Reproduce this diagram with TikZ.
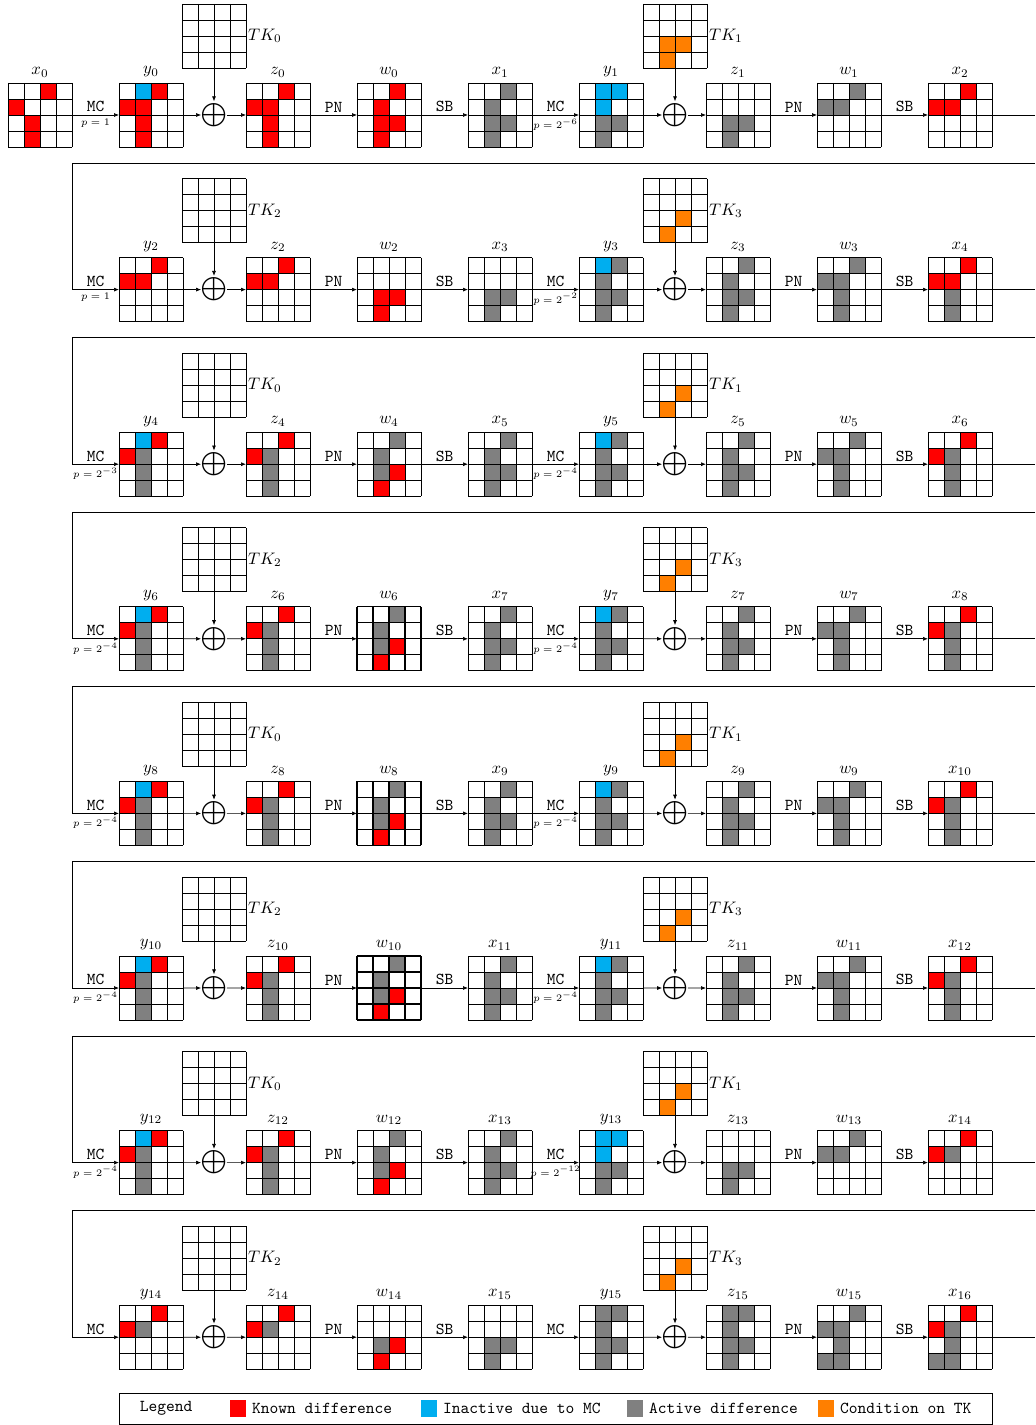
\documentclass[tikz,border=0pt]{standalone}
\usetikzlibrary{calc,positioning,arrows.meta}

\definecolor{kn}{RGB}{255,0,0}
\definecolor{ia}{RGB}{0,174,239}
\definecolor{ac}{RGB}{128,128,128}
\definecolor{cd}{RGB}{255,127,0}

\tikzset{
	gbox/.style={minimum size=38.4pt, inner sep=0pt, outer sep=0pt, label distance=0pt, every label/.style={inner sep=1.8pt}},
	tkl/.style={inner sep=1pt},
	thickgrid/.style={line width=0.75pt},
	xorop/.style={inner sep=0pt, font=\large},
	op/.style={above, inner sep=1.5pt, font=\ttfamily},
	prob/.style={below, inner sep=2pt, font=\fontsize{6}{7}\selectfont},
	swatch/.style={minimum width=9.6pt, minimum height=10pt, inner sep=0pt},
}

% #2 name, #3 centre, #4 label, #5 cells row/col/colour
\newcommand{\stategrid}[5][]{%
	\node[gbox, label={#4}] (#2) at (#3) {};
	\foreach \rw/\cl/\col in {#5}
		\fill[fill=\col] ($(#2.north west)+(\cl*16,\rw*16)$) rectangle +(16,16);
	\foreach \i in {0,...,4} {
		\draw[line width=0.5pt, #1] ($(#2.north west)+(\i*16,0)$) -- +(0,64);
		\draw[line width=0.5pt, #1] ($(#2.north west)+(0,\i*16)$) -- +(64,0);
	}
}

\begin{document}
\begin{tikzpicture}[x=0.6pt, y=-0.6pt, line width=0.4pt, >={Latex[length=3pt,width=2.4pt]}]
	\useasboundingbox (0,0) rectangle (1035,1425);
	\coordinate (edge) at (1035,0);

	\stategrid{x0}{40,115}{above:$x_0$}{0/2/kn,1/0/kn,2/1/kn,3/1/kn}
	\stategrid{y0}{151,115}{above:$y_0$}{0/1/ia,0/2/kn,1/0/kn,1/1/kn,2/1/kn,3/1/kn}
	\stategrid{key0}{214,36}{[tkl]right:$TK_0$}{0/0/white}
	\stategrid{z0}{278,115}{above:$z_0$}{0/2/kn,1/0/kn,1/1/kn,2/1/kn,3/1/kn}
	\stategrid{w0}{389,115}{above:$w_0$}{0/2/kn,1/1/kn,2/1/kn,2/2/kn,3/1/kn}
	\stategrid{x1}{500,115}{above:$x_1$}{0/2/ac,1/1/ac,2/1/ac,2/2/ac,3/1/ac}
	\stategrid{y1}{611,115}{above:$y_1$}{0/1/ia,0/2/ia,1/1/ia,2/1/ac,2/2/ac,3/1/ac}
	\stategrid{key1}{675,36}{[tkl]right:$TK_1$}{2/1/cd,2/2/cd,3/1/cd}
	\stategrid{z1}{738,115}{above:$z_1$}{2/1/ac,2/2/ac,3/1/ac}
	\stategrid{w1}{849,115}{above:$w_1$}{0/2/ac,1/0/ac,1/1/ac}
	\stategrid{x2}{960,115}{above:$x_2$}{0/2/kn,1/0/kn,1/1/kn}

	\stategrid{y2}{151,289.6}{above:$y_2$}{0/2/kn,1/0/kn,1/1/kn}
	\stategrid{key2}{214,210.6}{[tkl]right:$TK_2$}{0/0/white}
	\stategrid{z2}{278,289.6}{above:$z_2$}{0/2/kn,1/0/kn,1/1/kn}
	\stategrid{w2}{389,289.6}{above:$w_2$}{2/1/kn,2/2/kn,3/1/kn}
	\stategrid{x3}{500,289.6}{above:$x_3$}{2/1/ac,2/2/ac,3/1/ac}
	\stategrid{y3}{611,289.6}{above:$y_3$}{0/1/ia,0/2/ac,1/1/ac,2/1/ac,2/2/ac,3/1/ac}
	\stategrid{key3}{675,210.6}{[tkl]right:$TK_3$}{2/2/cd,3/1/cd}
	\stategrid{z3}{738,289.6}{above:$z_3$}{0/2/ac,1/1/ac,2/1/ac,2/2/ac,3/1/ac}
	\stategrid{w3}{849,289.6}{above:$w_3$}{0/2/ac,1/0/ac,1/1/ac,2/1/ac,3/1/ac}
	\stategrid{x4}{960,289.6}{above:$x_4$}{0/2/kn,1/0/kn,1/1/kn,2/1/ac,3/1/ac}

	\stategrid{y4}{151,464.2}{above:$y_4$}{0/1/ia,0/2/kn,1/0/kn,1/1/ac,2/1/ac,3/1/ac}
	\stategrid{key4}{214,385.2}{[tkl]right:$TK_0$}{0/0/white}
	\stategrid{z4}{278,464.2}{above:$z_4$}{0/2/kn,1/0/kn,1/1/ac,2/1/ac,3/1/ac}
	\stategrid{w4}{389,464.2}{above:$w_4$}{0/2/ac,1/1/ac,2/1/ac,2/2/kn,3/1/kn}
	\stategrid{x5}{500,464.2}{above:$x_5$}{0/2/ac,1/1/ac,2/1/ac,2/2/ac,3/1/ac}
	\stategrid{y5}{611,464.2}{above:$y_5$}{0/1/ia,0/2/ac,1/1/ac,2/1/ac,2/2/ac,3/1/ac}
	\stategrid{key5}{675,385.2}{[tkl]right:$TK_1$}{2/2/cd,3/1/cd}
	\stategrid{z5}{738,464.2}{above:$z_5$}{0/2/ac,1/1/ac,2/1/ac,2/2/ac,3/1/ac}
	\stategrid{w5}{849,464.2}{above:$w_5$}{0/2/ac,1/0/ac,1/1/ac,2/1/ac,3/1/ac}
	\stategrid{x6}{960,464.2}{above:$x_6$}{0/2/kn,1/0/kn,1/1/ac,2/1/ac,3/1/ac}

	\stategrid{y6}{151,638.8}{above:$y_6$}{0/1/ia,0/2/kn,1/0/kn,1/1/ac,2/1/ac,3/1/ac}
	\stategrid{key6}{214,559.8}{[tkl]right:$TK_2$}{0/0/white}
	\stategrid{z6}{278,638.8}{above:$z_6$}{0/2/kn,1/0/kn,1/1/ac,2/1/ac,3/1/ac}
	\stategrid[thickgrid]{w6}{389,638.8}{above:$w_6$}{0/2/ac,1/1/ac,2/1/ac,2/2/kn,3/1/kn}
	\stategrid{x7}{500,638.8}{above:$x_7$}{0/2/ac,1/1/ac,2/1/ac,2/2/ac,3/1/ac}
	\stategrid{y7}{611,638.8}{above:$y_7$}{0/1/ia,0/2/ac,1/1/ac,2/1/ac,2/2/ac,3/1/ac}
	\stategrid{key7}{675,559.8}{[tkl]right:$TK_3$}{2/2/cd,3/1/cd}
	\stategrid{z7}{738,638.8}{above:$z_7$}{0/2/ac,1/1/ac,2/1/ac,2/2/ac,3/1/ac}
	\stategrid{w7}{849,638.8}{above:$w_7$}{0/2/ac,1/0/ac,1/1/ac,2/1/ac,3/1/ac}
	\stategrid{x8}{960,638.8}{above:$x_8$}{0/2/kn,1/0/kn,1/1/ac,2/1/ac,3/1/ac}

	\stategrid{y8}{151,813.4}{above:$y_8$}{0/1/ia,0/2/kn,1/0/kn,1/1/ac,2/1/ac,3/1/ac}
	\stategrid{key8}{214,734.4}{[tkl]right:$TK_0$}{0/0/white}
	\stategrid{z8}{278,813.4}{above:$z_8$}{0/2/kn,1/0/kn,1/1/ac,2/1/ac,3/1/ac}
	\stategrid[thickgrid]{w8}{389,813.4}{above:$w_8$}{0/2/ac,1/1/ac,2/1/ac,2/2/kn,3/1/kn}
	\stategrid{x9}{500,813.4}{above:$x_9$}{0/2/ac,1/1/ac,2/1/ac,2/2/ac,3/1/ac}
	\stategrid{y9}{611,813.4}{above:$y_9$}{0/1/ia,0/2/ac,1/1/ac,2/1/ac,2/2/ac,3/1/ac}
	\stategrid{key9}{675,734.4}{[tkl]right:$TK_1$}{2/2/cd,3/1/cd}
	\stategrid{z9}{738,813.4}{above:$z_9$}{0/2/ac,1/1/ac,2/1/ac,2/2/ac,3/1/ac}
	\stategrid{w9}{849,813.4}{above:$w_9$}{0/2/ac,1/0/ac,1/1/ac,2/1/ac,3/1/ac}
	\stategrid{x10}{960,813.4}{above:$x_{10}$}{0/2/kn,1/0/kn,1/1/ac,2/1/ac,3/1/ac}

	\stategrid{y10}{151,988}{above:$y_{10}$}{0/1/ia,0/2/kn,1/0/kn,1/1/ac,2/1/ac,3/1/ac}
	\stategrid{key10}{214,909}{[tkl]right:$TK_2$}{0/0/white}
	\stategrid{z10}{278,988}{above:$z_{10}$}{0/2/kn,1/0/kn,1/1/ac,2/1/ac,3/1/ac}
	\stategrid[thickgrid]{w10}{389,988}{above:$w_{10}$}{0/2/ac,1/1/ac,2/1/ac,2/2/kn,3/1/kn}
	\stategrid{x11}{500,988}{above:$x_{11}$}{0/2/ac,1/1/ac,2/1/ac,2/2/ac,3/1/ac}
	\stategrid{y11}{611,988}{above:$y_{11}$}{0/1/ia,0/2/ac,1/1/ac,2/1/ac,2/2/ac,3/1/ac}
	\stategrid{key11}{675,909}{[tkl]right:$TK_3$}{2/2/cd,3/1/cd}
	\stategrid{z11}{738,988}{above:$z_{11}$}{0/2/ac,1/1/ac,2/1/ac,2/2/ac,3/1/ac}
	\stategrid{w11}{849,988}{above:$w_{11}$}{0/2/ac,1/0/ac,1/1/ac,2/1/ac,3/1/ac}
	\stategrid{x12}{960,988}{above:$x_{12}$}{0/2/kn,1/0/kn,1/1/ac,2/1/ac,3/1/ac}

	\stategrid{y12}{151,1162.6}{above:$y_{12}$}{0/1/ia,0/2/kn,1/0/kn,1/1/ac,2/1/ac,3/1/ac}
	\stategrid{key12}{214,1083.6}{[tkl]right:$TK_0$}{0/0/white}
	\stategrid{z12}{278,1162.6}{above:$z_{12}$}{0/2/kn,1/0/kn,1/1/ac,2/1/ac,3/1/ac}
	\stategrid{w12}{389,1162.6}{above:$w_{12}$}{0/2/ac,1/1/ac,2/1/ac,2/2/kn,3/1/kn}
	\stategrid{x13}{500,1162.6}{above:$x_{13}$}{0/2/ac,1/1/ac,2/1/ac,2/2/ac,3/1/ac}
	\stategrid{y13}{611,1162.6}{above:$y_{13}$}{0/1/ia,0/2/ia,1/1/ia,2/1/ac,2/2/ac,3/1/ac}
	\stategrid{key13}{675,1083.6}{[tkl]right:$TK_1$}{2/2/cd,3/1/cd}
	\stategrid{z13}{738,1162.6}{above:$z_{13}$}{2/1/ac,2/2/ac,3/1/ac}
	\stategrid{w13}{849,1162.6}{above:$w_{13}$}{0/2/ac,1/0/ac,1/1/ac}
	\stategrid{x14}{960,1162.6}{above:$x_{14}$}{0/2/kn,1/0/kn,1/1/ac}

	\stategrid{y14}{151,1337.2}{above:$y_{14}$}{0/2/kn,1/0/kn,1/1/ac}
	\stategrid{key14}{214,1258.2}{[tkl]right:$TK_2$}{0/0/white}
	\stategrid{z14}{278,1337.2}{above:$z_{14}$}{0/2/kn,1/0/kn,1/1/ac}
	\stategrid{w14}{389,1337.2}{above:$w_{14}$}{2/1/ac,2/2/kn,3/1/kn}
	\stategrid{x15}{500,1337.2}{above:$x_{15}$}{2/1/ac,2/2/ac,3/1/ac}
	\stategrid{y15}{611,1337.2}{above:$y_{15}$}{0/1/ac,0/2/ac,1/1/ac,2/1/ac,2/2/ac,3/1/ac}
	\stategrid{key15}{675,1258.2}{[tkl]right:$TK_3$}{2/2/cd,3/1/cd}
	\stategrid{z15}{738,1337.2}{above:$z_{15}$}{0/1/ac,0/2/ac,1/1/ac,2/1/ac,2/2/ac,3/1/ac}
	\stategrid{w15}{849,1337.2}{above:$w_{15}$}{0/2/ac,1/0/ac,1/1/ac,2/1/ac,3/0/ac,3/1/ac}
	\stategrid{x16}{960,1337.2}{above:$x_{16}$}{0/2/kn,1/0/kn,1/1/ac,2/1/ac,3/0/ac,3/1/ac}

	\foreach \k/\pa/\pb in {0/{$p=1$}/{$p=2^{-6}$}, 1/{$p=1$}/{$p=2^{-2}$}, 2/{$p=2^{-3}$}/{$p=2^{-4}$}, 3/{$p=2^{-4}$}/{$p=2^{-4}$}, 4/{$p=2^{-4}$}/{$p=2^{-4}$}, 5/{$p=2^{-4}$}/{$p=2^{-4}$}, 6/{$p=2^{-4}$}/{$p=2^{-12}$}, 7/{}/{}} {
		\pgfmathtruncatemacro\ra{2*\k}
		\pgfmathtruncatemacro\rb{2*\k+1}
		\pgfmathtruncatemacro\rc{2*\k+2}
		\pgfmathsetmacro\gy{115+174.6*\k}
		\node[xorop] (xor\ra) at (214,\gy) {$\displaystyle\bigoplus$};
		\node[xorop] (xor\rb) at (675,\gy) {$\displaystyle\bigoplus$};
		\ifnum\k=0
			\draw[->] (x0) -- node[op]{MC} node[prob]{\pa} (y0);
		\else
			\pgfmathsetmacro\fy{\gy-126.6}
			\coordinate (back\k) at (1035,\fy);
			\coordinate (turn\k) at (72,\fy);
			\draw[->] (back\k) -- (turn\k) |- node[op,pos=0.75]{MC} node[prob,pos=0.75]{\pa} (y\ra);
		\fi
		\draw[->] (y\ra) -- (xor\ra);
		\draw[->] (key\ra) -- (xor\ra);
		\draw[->] (xor\ra) -- (z\ra);
		\draw[->] (z\ra) -- node[op]{PN} (w\ra);
		\draw[->] (w\ra) -- node[op]{SB} (x\rb);
		\draw[->] (x\rb) -- node[op]{MC} node[prob]{\pb} (y\rb);
		\draw[->] (y\rb) -- (xor\rb);
		\draw[->] (key\rb) -- (xor\rb);
		\draw[->] (xor\rb) -- (z\rb);
		\draw[->] (z\rb) -- node[op]{PN} (w\rb);
		\draw[->] (w\rb) -- node[op]{SB} (x\rc);
		\draw (x\rc) -- (x\rc -| edge);
	}

	\node[draw, line width=0.5pt, minimum width=523.8pt, minimum height=18.6pt] (legend) at (555.5,1408.5) {};
	\node[font=\ttfamily] (legtitle) at (166,1408.5) {Legend};
	\node[swatch, fill=kn] (sw1) at (238,1408.5) {};
	\node[right=0pt of sw1, font=\ttfamily] (lt1) {Known difference};
	\node[swatch, fill=ia] (sw2) at (429,1408.5) {};
	\node[right=0pt of sw2, font=\ttfamily] (lt2) {Inactive due to MC};
	\node[swatch, fill=ac] (sw3) at (635,1408.5) {};
	\node[right=0pt of sw3, font=\ttfamily] (lt3) {Active difference};
	\node[swatch, fill=cd] (sw4) at (826,1408.5) {};
	\node[right=0pt of sw4, font=\ttfamily] (lt4) {Condition on TK};
\end{tikzpicture}
\end{document}
